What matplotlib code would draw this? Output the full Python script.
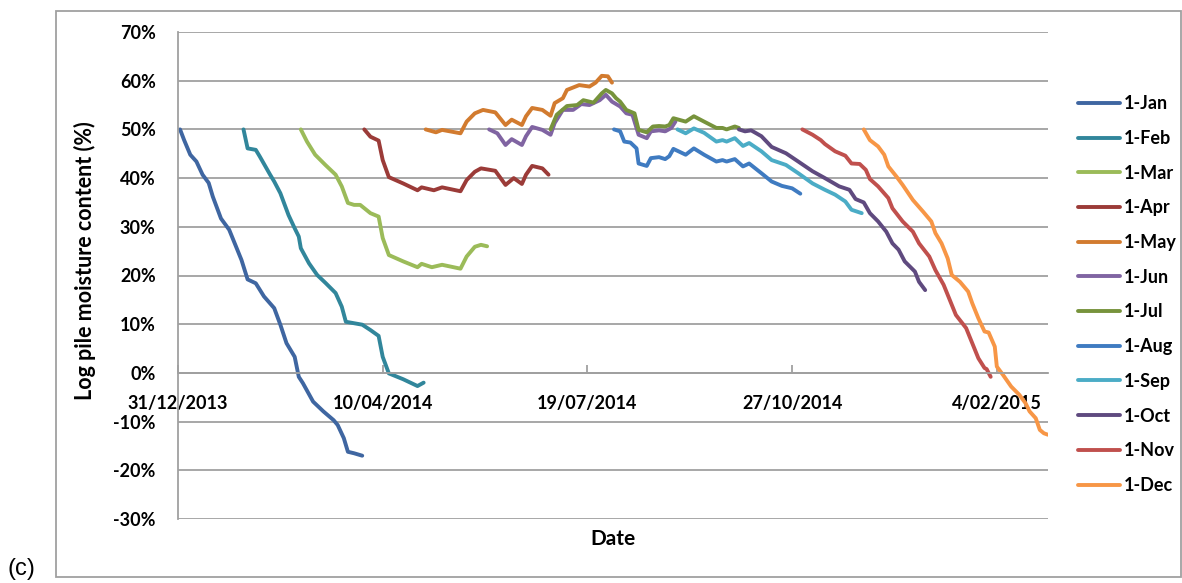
import matplotlib
matplotlib.use("Agg")
import matplotlib.pyplot as plt
from matplotlib.patches import Rectangle
from matplotlib.ticker import FuncFormatter, MultipleLocator
import pandas as pd

# ---------------- data (day offsets from series start, moisture %) ----------------
labels = ["1-Jan", "1-Feb", "1-Mar", "1-Apr", "1-May", "1-Jun",
          "1-Jul", "1-Aug", "1-Sep", "1-Oct", "1-Nov", "1-Dec"]
start_dates = ["2014-01-01", "2014-02-01", "2014-03-01", "2014-04-01",
               "2014-05-01", "2014-06-01", "2014-07-01", "2014-08-01",
               "2014-09-01", "2014-10-01", "2014-11-01", "2014-12-01"]
colors = ["#3F66A1", "#31869B", "#9BBB59", "#9B3B38", "#D27B2F", "#8064A2",
          "#77933C", "#3F7BC1", "#4BACC6", "#5F4A7F", "#C0504D", "#F79646"]

jan_days = [0, 2, 5, 8, 11, 14, 16, 20, 24, 27, 30, 33, 37, 41, 46, 49, 52, 56, 58, 60, 65, 70, 75, 77, 80, 82, 85, 89]
jan_vals = [50, 47.8, 44.8, 43.4, 40.7, 39, 36.2, 31.7, 29.4, 26.3, 23.2, 19.2, 18.4, 15.7, 13.3, 9.9, 6.1, 3.3,
            -0.8, -2.1, -5.9, -7.9, -9.7, -10.7, -13.4, -16.2, -16.5, -17]

feb_days = [0, 2, 6, 8, 13, 15, 18, 22, 25, 27, 28, 32, 36, 40, 45, 48, 50, 54, 58, 62, 66, 68, 71, 78, 85, 88]
feb_vals = [50, 46.1, 45.8, 44.4, 40.7, 39.3, 36.9, 32.4, 29.7, 28, 25.6, 22.5, 20.1, 18.5, 16.4, 13.6, 10.5,
            10.2, 9.9, 8.8, 7.6, 3.3, -0.1, -1.3, -2.7, -2]

mar_days = [0, 3, 7, 12, 17, 20, 23, 26, 29, 34, 38, 40, 43, 50, 57, 59, 64, 69, 78, 81, 85, 88, 91]
mar_vals = [50, 47.5, 44.8, 42.7, 40.7, 38.3, 34.9, 34.5, 34.5, 32.8, 32.1, 27.7, 24.2, 22.9, 21.7, 22.4,
            21.7, 22.2, 21.4, 23.9, 25.9, 26.3, 26]

apr_days = [0, 3, 7, 9, 12, 19, 26, 28, 34, 38, 47, 50, 54, 57, 64, 69, 73, 77, 79, 82, 87, 90]
apr_vals = [50, 48.5, 47.7, 43.7, 40.2, 38.9, 37.5, 38.1, 37.5, 38.1, 37.3, 39.6, 41.3, 42, 41.5, 38.6,
            40, 38.8, 40.7, 42.5, 42, 40.7]

may_days = [0, 5, 8, 17, 20, 24, 28, 34, 39, 42, 47, 49, 52, 57, 61, 63, 67, 69, 75, 80, 83, 86, 89, 91]
may_vals = [50, 49.4, 49.9, 49.2, 51.6, 53.3, 54, 53.5, 50.9, 52, 50.9, 52.7, 54.4, 54, 52.8, 55.4,
            56.4, 58.1, 59.1, 58.8, 59.6, 61, 60.9, 59.6]

jun_days = [0, 4, 8, 11, 16, 18, 21, 26, 30, 32, 36, 41, 45, 49, 54, 57, 60, 64, 67, 70, 73, 77, 79,
            83, 86, 89, 91]
jun_vals = [50, 49.2, 46.8, 48, 46.8, 48.6, 50.5, 49.9, 48.9, 51.3, 54, 54, 55.2, 55, 56, 57.1, 55.7,
            54.7, 53.3, 53, 48.9, 48.2, 49.6, 49.8, 49.6, 50.3, 51.6]

jul_days = [0, 3, 8, 13, 16, 21, 25, 27, 30, 32, 34, 37, 41, 43, 47, 50, 53, 56, 58, 60, 66, 70, 75,
            81, 84, 86, 90, 92]
jul_vals = [50, 53, 54.8, 55, 56, 55.5, 57.4, 58.1, 57.4, 56.4, 55.7, 54, 53.3, 49.9, 49.4, 50.6, 50.7,
            50.6, 50.9, 52.3, 51.6, 52.7, 51.6, 50.3, 50.3, 50, 50.6, 50.3]

aug_days = [0, 3, 5, 8, 11, 12, 16, 18, 22, 25, 27, 29, 35, 39, 44, 50, 53, 55, 59, 63, 66, 72, 77,
            82, 87, 91]
aug_vals = [50, 49.6, 47.5, 47.3, 46.1, 43, 42.5, 44.1, 44.3, 43.9, 44.5, 46, 44.8, 46.1, 44.8, 43.4,
            43.7, 43.4, 43.9, 42.4, 43, 41, 39.3, 38.4, 37.9, 36.8]

sep_days = [0, 4, 8, 13, 19, 22, 24, 28, 32, 35, 41, 46, 53, 59, 66, 72, 77, 82, 85, 90]
sep_vals = [50, 49.2, 50.2, 49.3, 47.5, 47.8, 47.5, 48.2, 46.6, 47.2, 45.5, 43.7, 42.7, 41, 38.9,
            37.6, 36.6, 35.2, 33.5, 32.8]

oct_days = [0, 3, 6, 11, 16, 23, 29, 36, 42, 49, 54, 57, 61, 64, 68, 72, 75, 78, 81, 86, 88, 91]
oct_vals = [50, 49.6, 49.8, 48.6, 46.4, 45.1, 43.4, 41.4, 40, 38.3, 37.6, 35.7, 35, 32.8, 31.1, 29,
            26.6, 25.3, 22.9, 20.8, 18.7, 17]

nov_days = [0, 5, 9, 11, 16, 21, 24, 28, 31, 33, 37, 42, 44, 49, 54, 57, 62, 65, 69, 72, 75, 80, 83,
            86, 89, 90, 92]
nov_vals = [50, 48.9, 47.8, 47, 45.5, 44.6, 43, 42.9, 41.7, 39.8, 38.3, 35.9, 33.8, 31.1, 29, 26.6,
            23.9, 21.1, 18.1, 15, 11.9, 9.2, 6.1, 3, 1, 0.8, -0.8]

dec_days = [0, 3, 7, 10, 12, 16, 19, 24, 29, 33, 35, 38, 41, 43, 47, 51, 53, 56, 59, 61, 64, 65, 68,
            72, 76, 79, 81, 84, 86, 88, 90]
dec_vals = [50, 47.8, 46.5, 44.8, 42.4, 40.3, 38.6, 35.5, 33.1, 31.1, 28.7, 26.6, 23.5, 20.1, 18.7,
            16.7, 14.3, 11.2, 8.5, 8.3, 5.4, 1.3, -0.4, -2.8, -4.5, -6.2, -7.9, -9.3, -11.7, -12.4, -12.7]

all_days = [jan_days, feb_days, mar_days, apr_days, may_days, jun_days,
            jul_days, aug_days, sep_days, oct_days, nov_days, dec_days]
all_vals = [jan_vals, feb_vals, mar_vals, apr_vals, may_vals, jun_vals,
            jul_vals, aug_vals, sep_vals, oct_vals, nov_vals, dec_vals]

axis_start = "2013-12-31"
axis_end = "2015-03-01"
tick_step_days = 100

# ---------------- style ----------------
FONT = "Lato"
plt.rcParams["font.family"] = [FONT, "DejaVu Sans"]
plt.rcParams["font.weight"] = "bold"
plt.rcParams["axes.labelweight"] = "bold"
gray = "#A0A0A0"

fig = plt.figure(figsize=(11.82, 5.83), dpi=100)
ax = fig.add_axes([178 / 1182, 1 - 519 / 583, (1048 - 178) / 1182, (519 - 32) / 583])

for lab, sd, d, v, c in zip(labels, start_dates, all_days, all_vals, colors):
    x = pd.Timestamp(sd) + pd.to_timedelta(d, unit="D")
    ax.plot(x, v, color=c, lw=2.8, label=lab, solid_joinstyle="round", solid_capstyle="round")

t0 = pd.Timestamp(axis_start)
t1 = pd.Timestamp(axis_end)
ax.set_xlim(t0, t1)
ax.set_ylim(-30, 70)

ticks = [t0 + pd.Timedelta(days=k * tick_step_days) for k in range(5)]
ax.set_xticks(ticks)
ax.set_xticklabels([f"{t.day}/{t.month:02d}/{t.year}" for t in ticks])

ax.yaxis.set_major_locator(MultipleLocator(10))
ax.yaxis.set_major_formatter(FuncFormatter(lambda v, p: f"{v:.0f}%"))

ax.grid(axis="y", color=gray, lw=1.3)
ax.set_axisbelow(True)
for s in ["top", "right"]:
    ax.spines[s].set_visible(False)
ax.spines["left"].set_color(gray)
ax.spines["left"].set_linewidth(1.3)
ax.spines["bottom"].set_position(("data", 0))
ax.spines["bottom"].set_color(gray)
ax.spines["bottom"].set_linewidth(1.3)
ax.tick_params(axis="x", direction="in", length=6, width=1.3, color=gray, pad=16)
ax.tick_params(axis="y", length=0, pad=16)
ax.tick_params(labelsize=13)
for t in ax.get_xticklabels() + ax.get_yticklabels():
    t.set_fontweight("bold")

ax.set_ylabel("Log pile moisture content (%)", fontweight="bold", fontsize=15.5)
ax.yaxis.set_label_coords(-0.094, 0.53)

fig.text(613 / 1182, 1 - 539 / 583, "Date", ha="center", va="center",
         fontweight="bold", fontsize=15)
fig.text(21 / 1182, 1 - 569 / 583, "(c)", ha="center", va="center",
         fontfamily="Liberation Sans", fontweight="normal", fontsize=17)

# outer frame
fig.patches.append(Rectangle((56 / 1182, 1 - 577 / 583), (1181 - 56) / 1182, (577 - 11) / 583,
                             transform=fig.transFigure, fill=False, edgecolor=gray, lw=1.3))

leg = fig.legend(loc="upper left", bbox_to_anchor=(1062 / 1182, 1 - 79 / 583),
                 frameon=False, prop={"family": FONT, "weight": "bold", "size": 13},
                 handlelength=2.3, handletextpad=0.2, labelspacing=0.98)

fig.savefig("out.png", dpi=100)
